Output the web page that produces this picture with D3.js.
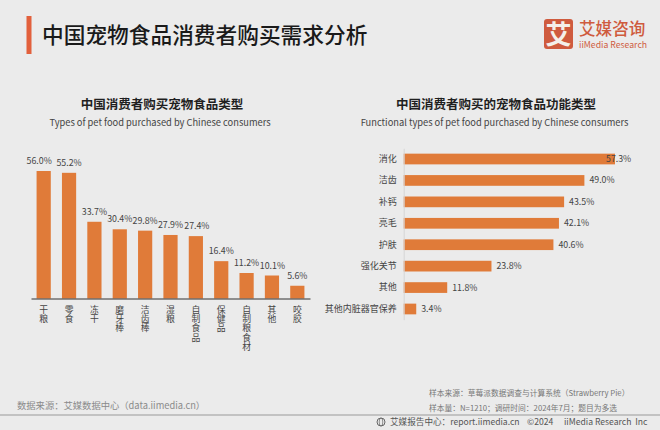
<!DOCTYPE html>
<html>
<head>
<meta charset="utf-8">
<script src="https://cdn.jsdelivr.net/npm/d3@7"></script>
<style>
html, body { margin: 0; padding: 0; background: #ebebeb; }
svg { display: block; }
text { font-family: "Noto Sans CJK SC", "Noto Sans", sans-serif; }
</style>
</head>
<body>
<svg id="chart" width="660" height="430"></svg>
<script>
var leftCategories = ["干粮", "零食", "冻干", "磨牙棒", "洁齿棒", "湿粮", "自制食品", "保健品", "自制粮食材", "其他", "咬胶"];
var leftValues = [56.0, 55.2, 33.7, 30.4, 29.8, 27.9, 27.4, 16.4, 11.2, 10.1, 5.6];
var rightCategories = ["消化", "洁齿", "补钙", "亮毛", "护肤", "强化关节", "其他", "其他内脏器官保养"];
var rightValues = [57.3, 49.0, 43.5, 42.1, 40.6, 23.8, 11.8, 3.4];

//les pourcentages sont decales a la main comme sur l'image
var leftLabelShift = [-4.5, 0, 0, 0, 0, 0, 1, 0, 0, 0.5, 0];
var rightLabelShift = [-14, 0, 0, 0, 0, 0, 0, 0];

var barColor = "#e07b39";
var svg = d3.select("#chart");

function addText(x, y, str, size, color, anchor, weight) {
    return svg.append("text")
        .attr("x", x).attr("y", y)
        .attr("font-size", size)
        .attr("fill", color)
        .attr("text-anchor", anchor || "start")
        .attr("font-weight", weight || 400)
        .text(str);
}

//titre
svg.append("rect").attr("x", 26.5).attr("y", 16).attr("width", 5).attr("height", 38).attr("fill", "#e2603c");
addText(42, 43, "中国宠物食品消费者购买需求分析", 21.7, "#1a1a1a", "start", 500);

//logo
svg.append("rect").attr("x", 544).attr("y", 19).attr("width", 29).attr("height", 30).attr("rx", 3).attr("fill", "#cf5b3e");
addText(558.5, 44, "艾", 26, "#f4f0ea", "middle", 700);
addText(579, 34.6, "艾媒咨询", 16.6, "#cf5b3e", "start", 500);
addText(579, 48, "iiMedia Research", 8.7, "#cf5b3e", "start", 400);

//sous-titres
addText(162, 109, "中国消费者购买宠物食品类型", 12.5, "#1f1f1f", "middle", 700);
addText(160, 126, "Types of pet food purchased by Chinese consumers", 9.3, "#444", "middle");
addText(496, 109, "中国消费者购买的宠物食品功能类型", 12.5, "#1f1f1f", "middle", 700);
addText(494.5, 126, "Functional types of pet food purchased by Chinese consumers", 9.3, "#444", "middle");

//graphique de gauche
var xLeft = d3.scaleBand().domain(leftCategories).range([31, 310]).paddingInner(0.44).paddingOuter(0.22);
var yLeft = d3.scaleLinear().domain([0, 56]).range([298.5, 171]);

svg.append("g").selectAll("rect")
    .data(leftValues)
    .enter().append("rect")
    .attr("x", function(d, i) { return xLeft(leftCategories[i]); })
    .attr("y", function(d) { return yLeft(d); })
    .attr("width", xLeft.bandwidth())
    .attr("height", function(d) { return yLeft(0) - yLeft(d); })
    .attr("fill", barColor);

var leftAxis = svg.append("g")
    .attr("transform", "translate(0," + yLeft(0) + ")")
    .call(d3.axisBottom(xLeft).tickSize(0).tickFormat(""));
leftAxis.select(".domain").attr("stroke", "#333").attr("stroke-width", 1);

//libelles verticaux
leftCategories.forEach(function(name) {
    var cx = xLeft(name) + xLeft.bandwidth() / 2;
    addText(cx, 305, name, 8.8, "#444", "start")
        .attr("writing-mode", "vertical-rl")
        .style("text-orientation", "upright")
        .style("letter-spacing", "0.55px");
});

leftValues.forEach(function(v, i) {
    var cx = xLeft(leftCategories[i]) + xLeft.bandwidth() / 2 + leftLabelShift[i];
    addText(cx, yLeft(v) - 7, v.toFixed(1) + "%", 8.8, "#444", "middle");
});

//graphique de droite
var xRight = d3.scaleLinear().domain([0, 57.3]).range([403.7, 615]);
var yRight = d3.scaleBand().domain(rightCategories).range([148.3, 319.7]).paddingInner(0.5).paddingOuter(0.25);

svg.append("g").selectAll("rect")
    .data(rightValues)
    .enter().append("rect")
    .attr("x", xRight(0))
    .attr("y", function(d, i) { return yRight(rightCategories[i]); })
    .attr("width", function(d) { return xRight(d) - xRight(0); })
    .attr("height", yRight.bandwidth())
    .attr("fill", barColor);

var rightAxis = svg.append("g")
    .attr("transform", "translate(" + xRight(0) + ",0)")
    .call(d3.axisLeft(yRight).tickSize(0).tickPadding(7));
rightAxis.select(".domain").attr("stroke", "#d5d5d5").attr("stroke-width", 1);
rightAxis.selectAll("text").attr("font-size", 9).attr("fill", "#444")
    .style("font-family", "'Noto Sans CJK SC', sans-serif");

rightValues.forEach(function(v, i) {
    var cy = yRight(rightCategories[i]) + yRight.bandwidth() / 2;
    addText(xRight(v) + 5 + rightLabelShift[i], cy + 3, v.toFixed(1) + "%", 8.8, "#444");
});

//pied de page
addText(17, 408.5, "数据来源：艾媒数据中心（data.iimedia.cn）", 9.3, "#8a8a8a");
addText(429, 396, "样本来源：草莓派数据调查与计算系统（Strawberry Pie）", 7.75, "#777");
addText(429, 411, "样本量：N=1210；调研时间：2024年7月；题目为多选", 7.75, "#777");
svg.append("line").attr("x1", 0).attr("x2", 660).attr("y1", 415).attr("y2", 415).attr("stroke", "#999").attr("stroke-width", 1);
svg.append("circle").attr("cx", 381).attr("cy", 422).attr("r", 4).attr("fill", "none").attr("stroke", "#666").attr("stroke-width", 1);
svg.append("ellipse").attr("cx", 381).attr("cy", 422).attr("rx", 1.8).attr("ry", 4).attr("fill", "none").attr("stroke", "#666").attr("stroke-width", 0.7);
addText(390, 425, "艾媒报告中心：report.iimedia.cn", 8.6, "#555");
addText(527, 425, "©2024", 8.6, "#555");
addText(564, 425, "iiMedia Research  Inc", 8.6, "#555").style("white-space", "pre");
</script>
</body>
</html>
